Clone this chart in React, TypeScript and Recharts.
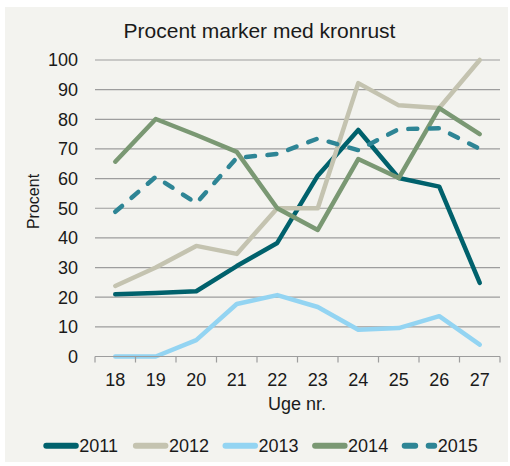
import { LineChart, Line, XAxis, YAxis, CartesianGrid } from 'recharts'

const weeks = ['18', '19', '20', '21', '22', '23', '24', '25', '26', '27']
const yTicks = [0, 10, 20, 30, 40, 50, 60, 70, 80, 90, 100]

const s2011 = [21, 21.4, 22, 30.5, 38.3, 61, 76.4, 60.2, 57.3, 24.8]
const s2012 = [23.8, 30, 37.3, 34.6, 50, 50, 92.2, 84.7, 83.8, 100]
const s2013 = [0, 0, 5.5, 17.7, 20.7, 16.7, 9, 9.6, 13.6, 4]
const s2014 = [65.7, 80.1, 74.7, 69, 50, 42.7, 66.6, 60.2, 83.8, 75]
const s2015 = [48.8, 60.6, 51.7, 67, 68.3, 73.5, 69.6, 76.7, 77, 70]

const series = [
  { key: 'y2011', name: '2011', color: '#00616c', dash: undefined as string | undefined },
  { key: 'y2012', name: '2012', color: '#c4c3b0', dash: undefined },
  { key: 'y2013', name: '2013', color: '#93d4f2', dash: undefined },
  { key: 'y2014', name: '2014', color: '#7a9873', dash: undefined },
  { key: 'y2015', name: '2015', color: '#2e8595', dash: '9 12.5' },
]

const data = weeks.map((w, i) => ({
  week: w,
  y2011: s2011[i],
  y2012: s2012[i],
  y2013: s2013[i],
  y2014: s2014[i],
  y2015: s2015[i],
}))

const FONT = '"Liberation Sans", Arial, sans-serif'
const TEXT = '#1a1a1a'
const GRID = '#9d9d9d'
const W = 510
const H = 466
const MARGIN = { top: 60, right: 10, bottom: 49.5, left: 0 }
const Y_W = 95
const band = (W - MARGIN.right - MARGIN.left - Y_W) / weeks.length

function WeekTick(props: any) {
  const { x, y, payload, index } = props
  const last = index === weeks.length - 1
  return (
    <g>
      <line x1={x - band / 2} x2={x - band / 2} y1={y} y2={y + 6} stroke={GRID} strokeWidth={1.2} />
      {last && <line x1={x + band / 2} x2={x + band / 2} y1={y} y2={y + 6} stroke={GRID} strokeWidth={1.2} />}
      <text x={x} y={y + 29} textAnchor="middle" fontSize={18} fontFamily={FONT} fill={TEXT}>
        {payload.value}
      </text>
    </g>
  )
}

export default function App() {
  return (
    <div style={{ position: 'absolute', left: 0, top: 0, width: W, height: H, background: '#fff' }}>
      <div style={{ position: 'absolute', left: 5, top: 7, width: 503, height: 455, background: '#f3f3ef' }} />
      <div style={{ position: 'absolute', left: 0, top: 0 }}>
        <LineChart width={W} height={H} data={data} margin={MARGIN}>
          <CartesianGrid vertical={false} stroke={GRID} strokeWidth={1.2} />
          <XAxis
            dataKey="week"
            padding={{ left: band / 2, right: band / 2 }}
            axisLine={{ stroke: GRID, strokeWidth: 1.2 }}
            tickLine={false}
            tickSize={0}
            tickMargin={0}
            height={60}
            interval={0}
            tick={<WeekTick />}
          />
          <YAxis
            domain={[0, 100]}
            ticks={yTicks}
            width={Y_W}
            axisLine={false}
            tickLine={false}
            tickMargin={11}
            interval={0}
            tick={{ fontSize: 18, fontFamily: FONT, fill: TEXT }}
          />
          {series.map(s => (
            <Line
              key={s.key}
              dataKey={s.key}
              stroke={s.color}
              strokeWidth={4.5}
              strokeDasharray={s.dash}
              strokeLinecap="round"
              strokeLinejoin="round"
              dot={false}
              activeDot={false}
              isAnimationActive={false}
            />
          ))}
        </LineChart>
      </div>
      <svg width={W} height={H} style={{ position: 'absolute', left: 0, top: 0, pointerEvents: 'none' }}>
        <text x={259.5} y={38.3} textAnchor="middle" fontSize={21} fontFamily={FONT} fill={TEXT}>
          Procent marker med kronrust
        </text>
        <text transform="translate(39,201.5) rotate(-90)" textAnchor="middle" fontSize={16} fontFamily={FONT} fill={TEXT}>
          Procent
        </text>
        <text x={297} y={410} textAnchor="middle" fontSize={18} fontFamily={FONT} fill={TEXT}>
          Uge nr.
        </text>
        {series.map((s, i) => {
          const x0 = 43.3 + i * 89.6
          return (
            <g key={s.key}>
              <line
                x1={x0 + 3}
                x2={x0 + 32.5}
                y1={445.7}
                y2={445.7}
                stroke={s.color}
                strokeWidth={6}
                strokeLinecap="round"
                strokeDasharray={s.dash ? '10.5 13.5' : undefined}
              />
              <text x={x0 + 36} y={451.7} fontSize={18} fontFamily={FONT} fill={TEXT}>
                {s.name}
              </text>
            </g>
          )
        })}
      </svg>
    </div>
  )
}
